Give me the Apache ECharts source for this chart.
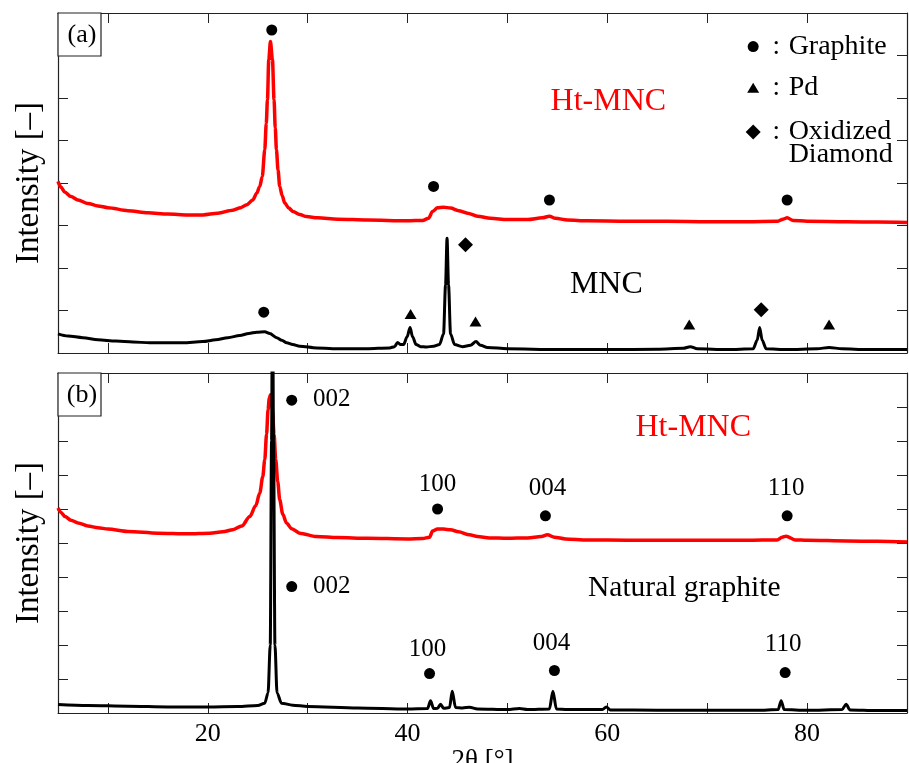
<!DOCTYPE html>
<html><head><meta charset="utf-8">
<script src="https://cdn.jsdelivr.net/npm/echarts@6/dist/echarts.min.js"></script>
<style>html,body{margin:0;padding:0;background:#fff}#c{width:909px;height:763px}</style>
</head><body><div id="c"></div>
<script>
// ---- data ----
const xTickValues = [10, 20, 30, 40, 50, 60, 70, 80, 90];
const xLabelValues = [20, 40, 60, 80];

// panel (a) Ht-MNC (red)
const htMncA = [[5,4.04],[5.3,3.9],[5.7,3.78],[6.3,3.68],[7,3.6],[8,3.52],[9,3.46],[10,3.42],[12,3.35],[14,3.3],[16,3.27],[18,3.25],[19.5,3.25],[21,3.29],[22.5,3.36],[23.3,3.42],[23.9,3.49],[24.5,3.6],[24.9,3.76],[25.2,3.92],[25.45,4.15],[25.7,4.78],[25.85,5.4],[25.97,5.96],[26.1,6.9],[26.27,7.33],[26.47,6.9],[26.63,5.96],[26.75,5.3],[26.87,4.78],[27.03,4.3],[27.2,3.92],[27.45,3.7],[27.7,3.53],[28.1,3.41],[28.53,3.33],[29.2,3.26],[29.87,3.21],[31,3.18],[33,3.15],[36,3.13],[40,3.11],[41.5,3.12],[42.1,3.17],[42.5,3.33],[43.0,3.42],[43.6,3.43],[44.3,3.41],[45.1,3.35],[46,3.29],[47,3.22],[48.3,3.17],[50,3.14],[52,3.14],[53.5,3.18],[54.2,3.22],[54.8,3.17],[56,3.13],[58,3.11],[62,3.1],[66,3.1],[70,3.09],[74,3.09],[77,3.1],[77.6,3.15],[78,3.18],[78.6,3.12],[80,3.1],[84,3.09],[87,3.08],[90,3.07]];
// panel (a) MNC (black)
const mncA = [[5,0.45],[6,0.4],[7.5,0.36],[9,0.31],[10.8,0.28],[12.5,0.26],[14.2,0.24],[17.5,0.24],[19.5,0.27],[20.8,0.31],[22,0.36],[23.2,0.41],[24.1,0.46],[24.9,0.49],[25.7,0.5],[26.2,0.46],[26.9,0.36],[27.4,0.3],[27.9,0.24],[28.5,0.2],[29.2,0.16],[30.9,0.12],[32.5,0.1],[35.9,0.1],[38.2,0.12],[38.7,0.15],[39.0,0.25],[39.3,0.2],[39.6,0.2],[39.95,0.38],[40.25,0.6],[40.5,0.38],[40.85,0.2],[41.3,0.15],[41.9,0.14],[42.6,0.16],[43.2,0.2],[43.6,0.45],[43.8,1.6],[43.95,2.7],[44.1,1.6],[44.3,0.45],[44.7,0.2],[45.5,0.15],[46.3,0.18],[46.85,0.27],[47.3,0.18],[48,0.13],[50,0.1],[55,0.08],[60,0.08],[65,0.09],[67.6,0.11],[68.3,0.15],[69,0.1],[72,0.08],[74.6,0.1],[75.0,0.3],[75.25,0.6],[75.5,0.3],[75.9,0.1],[78,0.08],[81,0.1],[82.2,0.13],[83.5,0.1],[86,0.08],[90,0.08]];
// panel (b) Ht-MNC (red)
const htMncB = [[5,6.03],[5.3,5.9],[5.7,5.78],[6.3,5.67],[7,5.59],[8,5.5],[9,5.45],[10,5.41],[12,5.34],[15,5.29],[18,5.27],[20.2,5.29],[21.5,5.33],[22.5,5.39],[23.4,5.5],[24.2,5.78],[24.8,6.1],[25.2,6.47],[25.5,6.95],[25.7,7.45],[25.88,8.2],[26.03,8.92],[26.15,9.25],[26.27,9.36],[26.38,9.2],[26.47,8.92],[26.63,8.2],[26.8,7.45],[27.0,6.8],[27.2,6.27],[27.5,5.85],[27.87,5.59],[28.4,5.42],[29.2,5.29],[30.87,5.19],[33,5.16],[36,5.14],[40,5.12],[41.5,5.13],[42.2,5.17],[42.5,5.35],[43.0,5.41],[43.6,5.41],[44.3,5.39],[45.1,5.33],[46.2,5.24],[47,5.19],[48.2,5.15],[50,5.14],[52,5.15],[53.4,5.19],[54.0,5.24],[54.7,5.17],[55.8,5.12],[58,5.09],[62,5.08],[66,5.08],[70,5.08],[74,5.08],[77,5.09],[77.5,5.17],[77.9,5.2],[78.8,5.09],[80,5.08],[84,5.06],[87,5.05],[90,5.03]];
// panel (b) Natural graphite (black)
const naturalB = [[5,0.25],[8,0.22],[12,0.2],[16,0.18],[20,0.18],[23,0.19],[25,0.22],[25.7,0.29],[26.03,0.59],[26.25,2],[26.38,8],[26.48,13],[26.58,8],[26.72,2],[26.93,0.59],[27.37,0.29],[28.5,0.23],[30,0.19],[35,0.15],[40,0.12],[42.0,0.13],[42.3,0.36],[42.6,0.13],[43.0,0.14],[43.3,0.26],[43.6,0.14],[44.2,0.16],[44.47,0.64],[44.8,0.16],[45.5,0.15],[46.2,0.17],[47,0.12],[50,0.1],[51.2,0.13],[52,0.1],[54.2,0.12],[54.55,0.64],[54.9,0.12],[56,0.1],[59.5,0.1],[59.9,0.18],[60.3,0.09],[65,0.08],[70,0.08],[75,0.08],[77.1,0.1],[77.4,0.36],[77.7,0.1],[80,0.08],[83.5,0.1],[83.9,0.26],[84.3,0.09],[87,0.07],[90,0.07]];

// peak markers
const graphiteMarksA = [[26.4,7.6],[42.6,3.92],[54.2,3.6],[78.0,3.6],[25.6,0.96]];
const pdMarksA = [[40.3,0.92],[46.8,0.74],[68.2,0.67],[82.2,0.67]];
const diamondMarksA = [[45.8,2.55],[75.4,1.02]];
const legendSymbolsA = [['circle',74.6,7.21],['triangle',74.6,6.24],['diamond',74.6,5.2]];
const legendNamesA = [['Graphite',7.21],['Pd',6.24],['Oxidized',5.2],['Diamond',4.67]];
const graphiteMarksB = [[28.4,9.2],[28.4,3.72],[43.0,6.0],[42.2,1.16],[53.8,5.8],[78.0,5.8],[54.7,1.25],[77.8,1.19]];
const hklLabelsB = [['002',32.4,9.21],['002',32.4,3.72],['100',43.0,6.71],['100',42.0,1.88],['004',54.0,6.6],['110',77.9,6.6],['004',54.4,2.06],['110',77.6,2.01]];
const sampleLabelsA = [['Ht-MNC',60.1,5.92,'#ff0000'],['MNC',59.9,1.61,'#000000']];
const sampleLabelsB = [['Ht-MNC',68.6,8.38,'#ff0000'],['Natural graphite',67.7,3.68,'#000000']];

// ---- chart ----
const FONT = '"Liberation Serif", "Times New Roman", serif';
const frame = '#222';
function xAx(grid, pos, withLabels, name) {
  return {
    type: 'value', gridIndex: grid, position: pos, min: 5, max: 90,
    splitLine: {show: false},
    axisLine: {show: true, onZero: false, lineStyle: {color: frame, width: 1.2}},
    axisTick: {show: true, inside: true, length: 10, customValues: xTickValues, lineStyle: {color: frame, width: 1}},
    axisLabel: withLabels ? {show: true, customValues: xLabelValues, margin: 8, color: '#000', fontSize: 26, fontFamily: FONT} : {show: false},
    name: name || '', nameLocation: 'middle', nameGap: 26,
    nameTextStyle: {color: '#000', fontSize: 27, fontFamily: FONT}
  };
}
function yAx(grid, pos, max, name) {
  return {
    type: 'value', gridIndex: grid, position: pos, min: 0, max: max, interval: 1,
    splitLine: {show: false},
    axisLine: {show: true, onZero: false, lineStyle: {color: frame, width: 1.2}},
    axisTick: {show: true, inside: true, length: 10, lineStyle: {color: frame, width: 1}},
    axisLabel: {show: false},
    name: name || '', nameLocation: 'middle', nameRotate: 90, nameGap: 12,
    nameTextStyle: {color: '#000', fontSize: 33, fontFamily: FONT}
  };
}
function lineS(xi, yi, data, color, w) {
  return {type: 'line', xAxisIndex: xi, yAxisIndex: yi, data: data, showSymbol: false, symbol: 'none',
    smooth: 0.3, smoothMonotone: 'x', clip: true, lineStyle: {color: color, width: w}, silent: true, z: 2};
}
function markS(xi, yi, data, symbol, size) {
  return {type: 'scatter', xAxisIndex: xi, yAxisIndex: yi, data: data, symbol: symbol, symbolSize: size,
    itemStyle: {color: '#000', opacity: 1}, silent: true, z: 3};
}
function textS(xi, yi, items, pos, fontSize) {
  return {type: 'scatter', xAxisIndex: xi, yAxisIndex: yi, symbolSize: 1, silent: true, z: 4,
    itemStyle: {color: 'rgba(0,0,0,0)', opacity: 1},
    data: items.map(it => ({value: [it.x, it.y], label: {show: true, position: pos, distance: 0, opacity: 1,
      formatter: it.t, color: it.c || '#000', fontSize: it.s || fontSize, fontFamily: FONT}}))};
}

const series = [
  lineS(0, 0, htMncA, '#ff0000', 3.5),
  lineS(0, 0, mncA, '#000000', 3),
  lineS(2, 2, htMncB, '#ff0000', 3.5),
  lineS(2, 2, naturalB, '#000000', 3),
  markS(0, 0, graphiteMarksA, 'circle', 11),
  markS(0, 0, pdMarksA, 'triangle', [12, 10]),
  markS(0, 0, diamondMarksA, 'diamond', [15, 15]),
  markS(2, 2, graphiteMarksB, 'circle', 11),
  ...legendSymbolsA.map(s => markS(0, 0, [[s[1], s[2]]], s[0], s[0] === 'circle' ? 11 : (s[0] === 'triangle' ? [12, 10] : [15, 15]))),
  textS(0, 0, legendSymbolsA.map(s => ({t: ':', x: 76.9, y: s[2]})), 'inside', 27),
  textS(0, 0, legendNamesA.map(n => ({t: n[0], x: 78.1, y: n[1]})), 'right', 28),
  textS(0, 0, sampleLabelsA.map(s => ({t: s[0], x: s[1], y: s[2], c: s[3]})), 'inside', 32),
  textS(2, 2, sampleLabelsB.map(s => ({t: s[0], x: s[1], y: s[2], c: s[3], s: s[0] === 'Ht-MNC' ? 32 : 29.5})), 'inside', 30),
  textS(2, 2, hklLabelsB.map(h => ({t: h[0], x: h[1], y: h[2]})), 'inside', 25)
];

const option = {
  animation: false,
  backgroundColor: '#ffffff',
  textStyle: {fontFamily: FONT},
  grid: [
    {left: 58, top: 13, width: 849, height: 340, outerBoundsMode: 'none', containLabel: false},
    {left: 58, top: 373, width: 849, height: 340, outerBoundsMode: 'none', containLabel: false}
  ],
  xAxis: [xAx(0, 'bottom', false), xAx(0, 'top', false), xAx(1, 'bottom', true, '2θ [°]'), xAx(1, 'top', false)],
  yAxis: [yAx(0, 'left', 8, 'Intensity [–]'), yAx(0, 'right', 8), yAx(1, 'left', 10, 'Intensity [–]'), yAx(1, 'right', 10)],
  series: series,
  graphic: [
    {type: 'rect', shape: {x: 58, y: 13, width: 43, height: 43}, style: {fill: '#fff', stroke: frame, lineWidth: 1.2}, z: 10},
    {type: 'text', x: 82, y: 35, style: {text: '(a)', textAlign: 'center', textVerticalAlign: 'middle', font: '26px "Liberation Serif"', fill: '#000'}, z: 11},
    {type: 'rect', shape: {x: 58, y: 373, width: 43, height: 43}, style: {fill: '#fff', stroke: frame, lineWidth: 1.2}, z: 10},
    {type: 'text', x: 82, y: 395, style: {text: '(b)', textAlign: 'center', textVerticalAlign: 'middle', font: '26px "Liberation Serif"', fill: '#000'}, z: 11}
  ]
};
const chart = echarts.init(document.getElementById('c'), null, {renderer: 'canvas'});
chart.setOption(option);
</script></body></html>
